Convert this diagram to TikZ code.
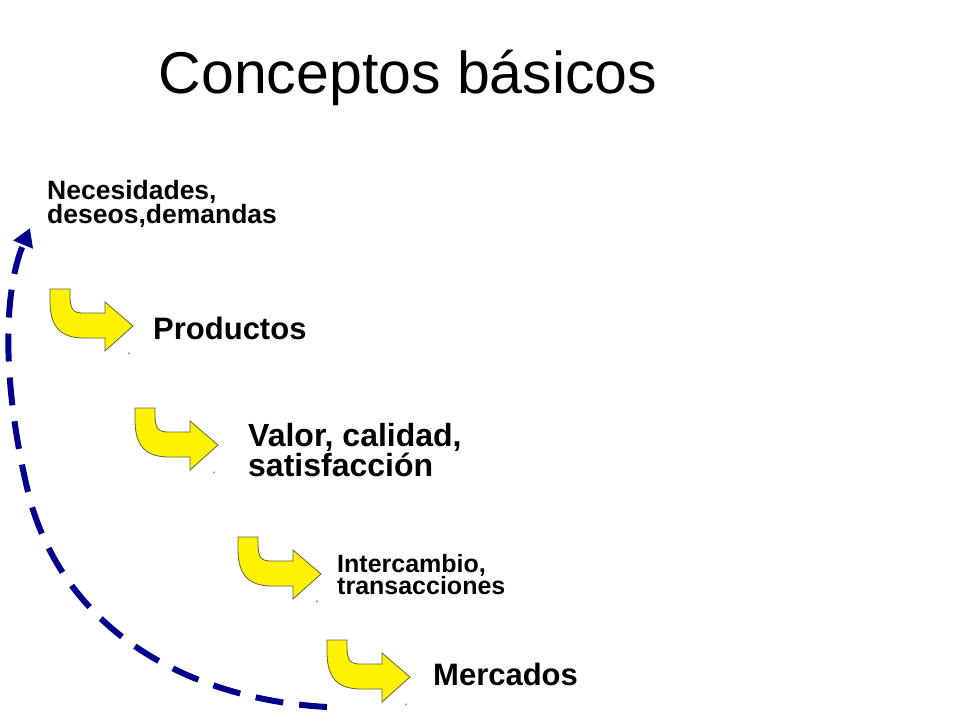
\documentclass[tikz,border=0pt]{standalone}
\usepackage{fontspec}
\setmainfont{Liberation Sans}
\usetikzlibrary{arrows.meta}
\tikzset{
 bent/.pic={\draw[fill=yellow,draw=black!70!yellow,line width=0.8pt]
   (0,0) -- (20,0) -- (20,6) .. controls (20,22) and (24,24) .. (34,24) -- (55,24) -- (55,13) -- (83,37) -- (55,62) -- (55,49) -- (34,49) .. controls (8,49) and (0,35) .. (0,12) -- cycle;
   \node[font=\fontsize{5}{5}\selectfont,inner sep=0] at (79,66) {\^{}};},
 lbl/.style={anchor=west,font=\bfseries,align=left,inner sep=0}
}
\begin{document}
\begin{tikzpicture}[x=1pt,y=-1pt]
\useasboundingbox (0,0) rectangle (960,720);
\node[font=\fontsize{59}{59}\selectfont] (t) at (408,78) {Conceptos básicos};
\node[lbl,font=\bfseries\fontsize{26.5}{22}\selectfont] (n) at (47,204) {Necesidades,\\deseos,demandas};
\pic at (50,289) {bent};
\node[lbl,font=\bfseries\fontsize{31}{31}\selectfont] (p) at (153,328) {Productos};
\pic at (135,408) {bent};
\node[lbl,font=\bfseries\fontsize{32}{30}\selectfont] (v) at (248,450) {Valor, calidad,\\satisfacción};
\pic at (238,537) {bent};
\node[lbl,font=\bfseries\fontsize{25}{22}\selectfont] (i) at (337,575) {Intercambio,\\transacciones};
\pic at (327,640) {bent};
\node[lbl,font=\bfseries\fontsize{31}{31}\selectfont] (m) at (433,674) {Mercados};
\coordinate (s) at (327,707);
\coordinate (e) at (30,228);
\draw[draw=blue!55!black,line width=6pt,dash pattern=on 28pt off 16pt,-{Triangle[length=18pt,width=20pt]}]
 (s) .. controls (200,700) and (70,640) .. (30,500) .. controls (5,400) and (0,300) .. (e);
\end{tikzpicture}
\end{document}
